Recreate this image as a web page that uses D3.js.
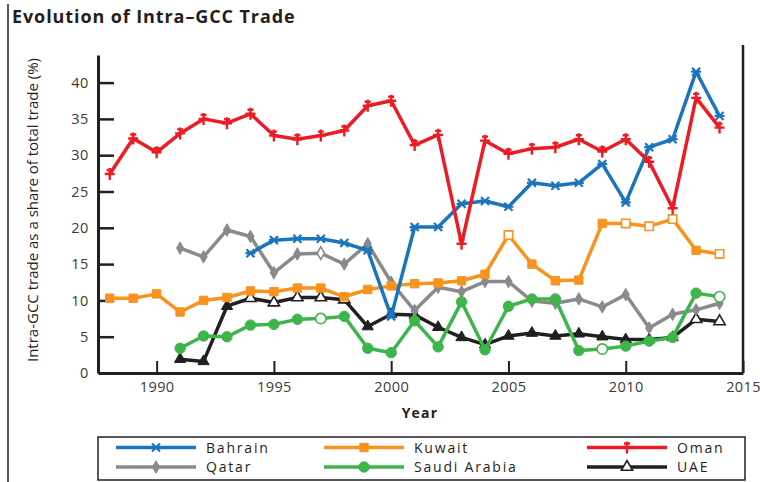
<!DOCTYPE html>
<html>
<head>
<meta charset="utf-8">
<script src="https://cdn.jsdelivr.net/npm/d3@7"></script>
<style>
  html, body { margin: 0; padding: 0; background: #fff; }
  #app { width: 760px; height: 482px; }
  text { font-family: "Open Sans", "Noto Sans", sans-serif; }
</style>
</head>
<body>
<div id="app"></div>
<script>
// Годы (категории оси X)
const years = [1988, 1989, 1990, 1991, 1992, 1993, 1994, 1995, 1996, 1997, 1998, 1999, 2000,
               2001, 2002, 2003, 2004, 2005, 2006, 2007, 2008, 2009, 2010, 2011, 2012, 2013, 2014];

// Доля внутри-GCC торговли, % (null = нет данных)
const bahrain = [null, null, null, null, null, null, 16.5, 18.3, 18.5, 18.5, 17.9, 16.9, 7.8,
                 20.1, 20.1, 23.3, 23.7, 22.9, 26.2, 25.8, 26.2, 28.8, 23.5, 31.1, 32.2, 41.5, 35.4];
const kuwait  = [10.3, 10.3, 10.9, 8.4, 10.0, 10.4, 11.3, 11.2, 11.7, 11.7, 10.5, 11.5, 12.0,
                 12.3, 12.4, 12.7, 13.6, 19.0, 15.0, 12.7, 12.8, 20.6, 20.6, 20.2, 21.2, 16.9, 16.4];
const oman    = [27.4, 32.3, 30.4, 33.0, 35.0, 34.4, 35.7, 32.7, 32.2, 32.7, 33.4, 36.8, 37.5,
                 31.4, 32.8, 17.8, 32.0, 30.2, 30.9, 31.1, 32.2, 30.5, 32.2, 29.1, 22.7, 37.9, 33.8];
const qatar   = [null, null, null, 17.2, 16.0, 19.7, 18.8, 13.8, 16.4, 16.5, 15.0, 17.8, 12.5,
                 8.6, 11.8, 11.2, 12.6, 12.6, 9.9, 9.6, 10.2, 9.1, 10.8, 6.2, 8.1, 8.7, 9.6];
const saudi   = [null, null, null, 3.4, 5.1, 5.0, 6.6, 6.7, 7.4, 7.5, 7.8, 3.4, 2.8,
                 7.2, 3.6, 9.8, 3.2, 9.2, 10.2, 10.2, 3.1, 3.3, 3.7, 4.4, 4.9, 11.0, 10.5];
const uae     = [null, null, null, 1.9, 1.6, 9.2, 10.3, 9.7, 10.4, 10.4, 10.1, 6.4, 8.1,
                 8.0, 6.3, 4.9, 3.9, 5.1, 5.5, 5.1, 5.4, 5.0, 4.6, 4.6, 4.9, 7.4, 7.1];

// Годы с незакрашенными маркерами
const kuwaitOpen = [2005, 2010, 2011, 2012, 2014];
const qatarOpen  = [1997];
const saudiOpen  = [1997, 2009, 2014];
const uaeOpen    = [1994, 1995, 1996, 1997, 1998, 2013, 2014];

// Подписи делений
const yTicks = [0, 5, 10, 15, 20, 25, 30, 35, 40];
const xTicks = [1990, 1995, 2000, 2005, 2010, 2015];

const series = [
  { name: 'UAE',          values: uae,     open: uaeOpen,    color: '#231f20', marker: 'triangle' },
  { name: 'Qatar',        values: qatar,   open: qatarOpen,  color: '#8a8a8a', marker: 'diamond' },
  { name: 'Kuwait',       values: kuwait,  open: kuwaitOpen, color: '#f7931e', marker: 'square' },
  { name: 'Saudi Arabia', values: saudi,   open: saudiOpen,  color: '#3db54a', marker: 'circle' },
  { name: 'Bahrain',      values: bahrain, open: [],         color: '#1b75bc', marker: 'cross' },
  { name: 'Oman',         values: oman,    open: [],         color: '#ed1c24', marker: 'plus' }
];

const legendOrder = ['Bahrain', 'Kuwait', 'Oman', 'Qatar', 'Saudi Arabia', 'UAE'];

const ink = '#231f20';

const svg = d3.select('#app')
  .append('svg')
  .attr('width', 760)
  .attr('height', 482);

// Рамка слева и заголовок
svg.append('line')
   .attr('x1', 8).attr('x2', 8)
   .attr('y1', 4).attr('y2', 482)
   .attr('stroke', ink)
   .attr('stroke-width', 1.5);

svg.append('text')
   .attr('x', 12)
   .attr('y', 23)
   .attr('font-size', '18px')
   .attr('font-weight', 'bold')
   .attr('letter-spacing', '0.9px')
   .attr('fill', ink)
   .text('Evolution of Intra\u2013GCC Trade');

// Шкалы
const xScale = d3.scaleLinear()
                 .domain([1987.5, 2015])
                 .range([98, 743]);

const yScale = d3.scaleLinear()
                 .domain([0, 43.8])
                 .range([373, 55]);

// Ось Y
const yAxis = svg.append('g')
  .attr('transform', `translate(${xScale.range()[0]},0)`)
  .call(d3.axisLeft(yScale).tickValues(yTicks).tickSize(-16).tickSizeOuter(0).tickPadding(9));

yAxis.select('.domain').attr('stroke', ink).attr('stroke-width', 3);
yAxis.selectAll('.tick line').attr('stroke', ink).attr('stroke-width', 2.5);
yAxis.selectAll('.tick text')
     .attr('font-size', '14.5px')
     .attr('letter-spacing', '0.6px')
     .attr('fill', '#3a3a3a')
     .attr('font-family', '"Open Sans", sans-serif');
yAxis.selectAll('.tick').filter(d => d === 0).select('line').remove();

// Ось X
const xAxis = svg.append('g')
  .attr('transform', `translate(0,${yScale(0)})`)
  .call(d3.axisBottom(xScale).tickValues(xTicks).tickSize(-12).tickSizeOuter(0)
          .tickPadding(9).tickFormat(d3.format('d')));

xAxis.select('.domain').attr('stroke', ink).attr('stroke-width', 3);
xAxis.selectAll('.tick line').attr('stroke', ink).attr('stroke-width', 2);
xAxis.selectAll('.tick text')
     .attr('font-size', '14.5px')
     .attr('letter-spacing', '0.4px')
     .attr('fill', '#3a3a3a')
     .attr('font-family', '"Open Sans", sans-serif');

// Правая граница области графика
svg.append('line')
   .attr('x1', xScale(2015)).attr('x2', xScale(2015))
   .attr('y1', 45).attr('y2', yScale(0))
   .attr('stroke', ink)
   .attr('stroke-width', 2.5);

// Подписи осей
svg.append('text')
   .attr('transform', `translate(38, 210) rotate(-90)`)
   .attr('text-anchor', 'middle')
   .attr('font-size', '15px')
   .attr('fill', ink)
   .text('Intra-GCC trade as a share of total trade (%)');

svg.append('text')
   .attr('x', 420)
   .attr('y', 418)
   .attr('text-anchor', 'middle')
   .attr('font-size', '14px')
   .attr('font-weight', 'bold')
   .attr('letter-spacing', '1.2px')
   .attr('fill', ink)
   .text('Year');

// Маркеры
function drawMarker(sel, type, color, open) {
  const fill = open ? '#fff' : color;
  if (type === 'cross') {
    sel.append('path')
       .attr('d', 'M-4,-4L4,4M-4,4L4,-4M-5,0L5,0')
       .attr('stroke', color)
       .attr('stroke-width', 2.2)
       .attr('fill', 'none');
  } else if (type === 'plus') {
    sel.append('path')
       .attr('d', 'M-5,0L5,0M0,-6L0,6M-3,-4L3,-4')
       .attr('stroke', color)
       .attr('stroke-width', 2.4)
       .attr('fill', 'none');
  } else {
    const sym = { square: d3.symbolSquare, circle: d3.symbolCircle,
                  diamond: d3.symbolDiamond, triangle: d3.symbolTriangle }[type];
    const size = { square: 70, circle: 85, diamond: 45, triangle: 55 }[type];
    sel.append('path')
       .attr('d', d3.symbol().type(sym).size(size)())
       .attr('fill', fill)
       .attr('stroke', color)
       .attr('stroke-width', open ? 1.6 : 1);
  }
}

const line = d3.line()
  .defined(d => d.value !== null)
  .x(d => xScale(d.year))
  .y(d => yScale(d.value));

series.forEach(s => {
  const pts = years.map((year, i) => ({ year, value: s.values[i] }));
  const g = svg.append('g').attr('class', 'series');

  g.append('path')
   .datum(pts)
   .attr('d', line)
   .attr('fill', 'none')
   .attr('stroke', s.color)
   .attr('stroke-width', 3.5)
   .attr('stroke-linejoin', 'round');

  g.selectAll('.pt')
   .data(pts.filter(d => d.value !== null))
   .join('g')
   .attr('class', 'pt')
   .attr('transform', d => `translate(${xScale(d.year)},${yScale(d.value)})`)
   .each(function(d) {
     drawMarker(d3.select(this), s.marker, s.color, s.open.includes(d.year));
   });
});

// Легенда
svg.append('rect')
   .attr('x', 98).attr('y', 437)
   .attr('width', 647).attr('height', 43)
   .attr('fill', 'none')
   .attr('stroke', ink)
   .attr('stroke-width', 1.5);

const legendX = [116, 324, 587];
const legendY = [447.5, 467];

legendOrder.forEach((name, i) => {
  const s = series.find(d => d.name === name);
  const lx = legendX[i % 3];
  const ly = legendY[Math.floor(i / 3)];
  const g = svg.append('g');

  g.append('line')
   .attr('x1', lx).attr('x2', lx + 80)
   .attr('y1', ly).attr('y2', ly)
   .attr('stroke', s.color)
   .attr('stroke-width', 3.5);

  const m = g.append('g').attr('transform', `translate(${lx + 40},${ly})`);
  drawMarker(m, s.marker, s.color, name === 'UAE');

  g.append('text')
   .attr('x', lx + 90)
   .attr('y', ly)
   .attr('dy', '0.36em')
   .attr('font-size', '14px')
   .attr('letter-spacing', '1.8px')
   .attr('fill', ink)
   .text(name);
});
</script>
</body>
</html>
